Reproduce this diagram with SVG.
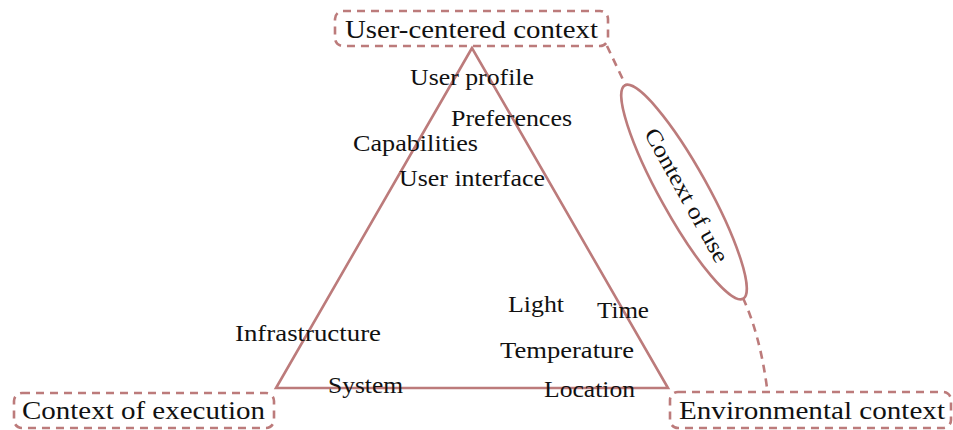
<svg xmlns="http://www.w3.org/2000/svg" width="953" height="430" viewBox="0 0 953 430">
<style>
.ln{fill:none;stroke:#bc7b7b;stroke-width:2.6}
.ds{fill:none;stroke:#bc7b7b;stroke-width:2.6;stroke-dasharray:8,6}
text{font-family:"Liberation Serif","DejaVu Serif",serif;fill:#111}
.big{font-size:26px}
.sm{font-size:23px}
</style>
<rect width="953" height="430" fill="#fff"/>
<g id="connectors">
<polygon class="ln" points="472,48 276,388 668,388"/>
<path class="ds" d="M607,46 L626,86"/>
<path class="ds" d="M743,298 Q760,335 767,388"/>
</g>
<g id="user-centered">
<rect class="ds" x="335" y="11" width="273" height="35" rx="8"/>
<text class="big" x="345" y="38" textLength="253" lengthAdjust="spacingAndGlyphs">User-centered context</text>
</g>
<g id="execution">
<rect class="ds" x="14" y="393" width="260" height="35" rx="8"/>
<text class="big" x="22" y="419" textLength="243" lengthAdjust="spacingAndGlyphs">Context of execution</text>
</g>
<g id="environmental">
<rect class="ds" x="670" y="392" width="281" height="36" rx="8"/>
<text class="big" x="679" y="419" textLength="266" lengthAdjust="spacingAndGlyphs">Environmental context</text>
</g>
<g id="context-of-use">
<ellipse class="ln" cx="684" cy="192" rx="122" ry="24" transform="rotate(61 684 192)"/>
<text class="sm" x="0" y="0" text-anchor="middle" transform="translate(680,199) rotate(61)" textLength="150" lengthAdjust="spacingAndGlyphs">Context of use</text>
</g>
<g id="labels">
<text class="sm" x="410" y="85" textLength="124" lengthAdjust="spacingAndGlyphs">User profile</text>
<text class="sm" x="451" y="126" textLength="121" lengthAdjust="spacingAndGlyphs">Preferences</text>
<text class="sm" x="353" y="151" textLength="125" lengthAdjust="spacingAndGlyphs">Capabilities</text>
<text class="sm" x="399" y="186" textLength="146" lengthAdjust="spacingAndGlyphs">User interface</text>
<text class="sm" x="508" y="312" textLength="56" lengthAdjust="spacingAndGlyphs">Light</text>
<text class="sm" x="597" y="318" textLength="52" lengthAdjust="spacingAndGlyphs">Time</text>
<text class="sm" x="235" y="341" textLength="146" lengthAdjust="spacingAndGlyphs">Infrastructure</text>
<text class="sm" x="500" y="358" textLength="134" lengthAdjust="spacingAndGlyphs">Temperature</text>
<text class="sm" x="328" y="393" textLength="75" lengthAdjust="spacingAndGlyphs">System</text>
<text class="sm" x="544" y="397" textLength="91" lengthAdjust="spacingAndGlyphs">Location</text>
</g>
</svg>
